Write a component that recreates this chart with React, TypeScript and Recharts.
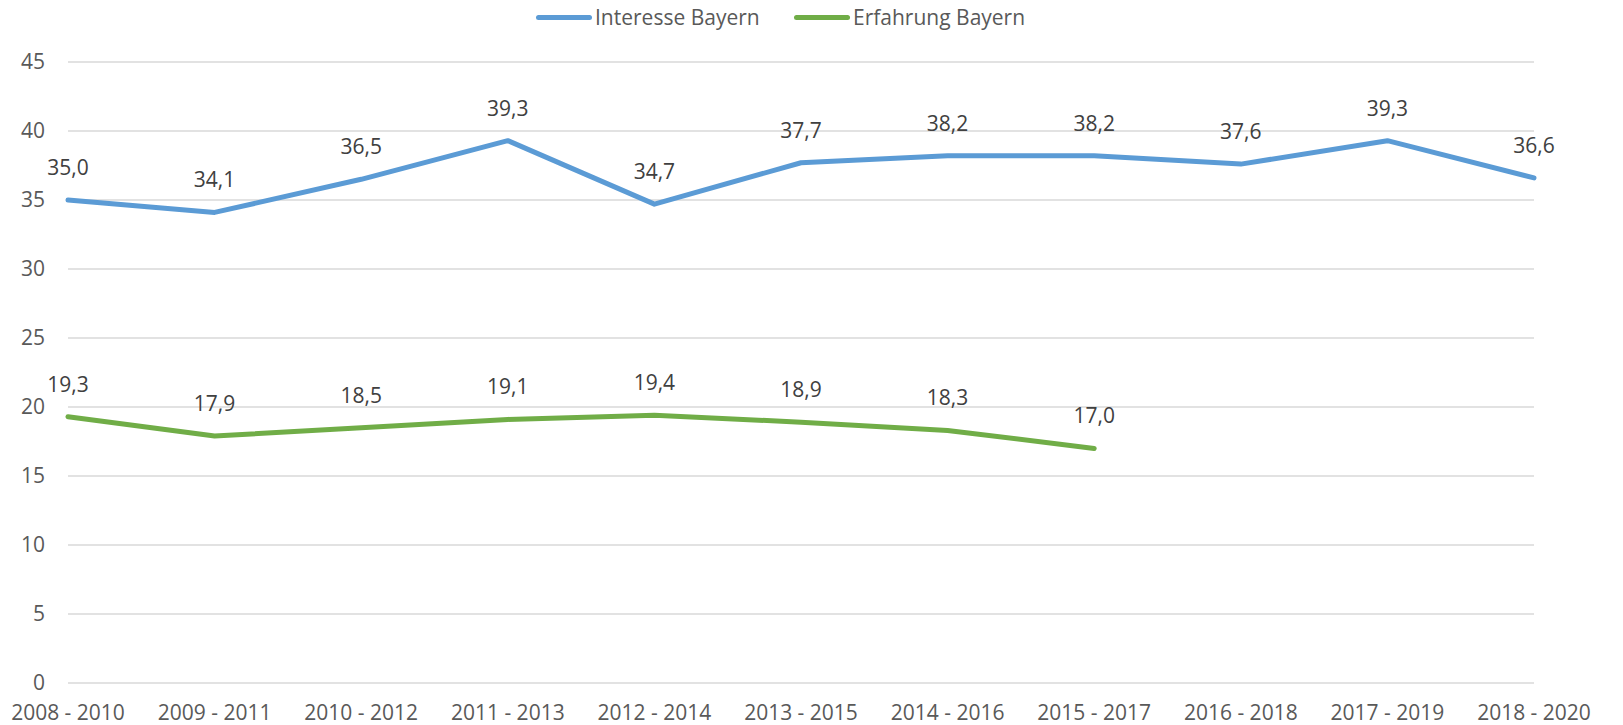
import React from 'react';
import { LineChart, Line, XAxis, YAxis, CartesianGrid, Legend, LabelList } from 'recharts';

const categories = ['2008 - 2010', '2009 - 2011', '2010 - 2012', '2011 - 2013', '2012 - 2014', '2013 - 2015', '2014 - 2016', '2015 - 2017', '2016 - 2018', '2017 - 2019', '2018 - 2020'];
const interesseBayern = [35.0, 34.1, 36.5, 39.3, 34.7, 37.7, 38.2, 38.2, 37.6, 39.3, 36.6];
const erfahrungBayern: (number | null)[] = [19.3, 17.9, 18.5, 19.1, 19.4, 18.9, 18.3, 17.0, null, null, null];
const yTicks = [0, 5, 10, 15, 20, 25, 30, 35, 40, 45];

const seriesNames = ['Interesse Bayern', 'Erfahrung Bayern'];
const seriesColors = ['#5B9BD5', '#70AD47'];

const data = categories.map((c, i) => ({
  name: c,
  interesse: interesseBayern[i],
  erfahrung: erfahrungBayern[i],
}));

const FONT = '"Open Sans", "Noto Sans", sans-serif';
const FS = 21;
const fmt = (v: any) => (v == null ? '' : Number(v).toFixed(1).replace('.', ','));

const LegendContent = () => (
  <div style={{ position: 'relative', width: 1623, height: 30, fontFamily: FONT, fontSize: FS, color: '#595959' }}>
    {[
      { left: 536, name: seriesNames[0], color: seriesColors[0] },
      { left: 794, name: seriesNames[1], color: seriesColors[1] },
    ].map((it) => (
      <div key={it.name} style={{ position: 'absolute', left: it.left, top: 0, height: 30, display: 'flex', alignItems: 'center', whiteSpace: 'nowrap' }}>
        <span style={{ display: 'inline-block', width: 56, height: 5, borderRadius: 3, background: it.color, marginRight: 3 }} />
        <span>{it.name}</span>
      </div>
    ))}
  </div>
);

export default function App() {
  return (
    <div style={{ position: 'absolute', left: 0, top: 0, width: 1623, height: 725, background: '#fff' }}>
      <LineChart width={1623} height={725} data={data} margin={{ top: 32, right: 89, bottom: 0, left: 0 }}>
        <CartesianGrid horizontal={true} vertical={false} stroke="#D9D9D9" strokeWidth={1.5} />
        <XAxis
          dataKey="name"
          axisLine={false}
          tickLine={false}
          height={42}
          tickMargin={16}
          interval={0}
          tick={{ fill: '#595959', fontSize: FS, fontFamily: FONT }}
        />
        <YAxis
          domain={[0, 45]}
          ticks={yTicks}
          width={68}
          axisLine={false}
          tickLine={false}
          tickMargin={17}
          tick={{ fill: '#595959', fontSize: FS, fontFamily: FONT }}
        />
        <Legend verticalAlign="top" content={<LegendContent />} wrapperStyle={{ top: 2, left: 0, width: 1623, height: 30 }} />
        <Line
          type="linear"
          dataKey="interesse"
          name={seriesNames[0]}
          stroke={seriesColors[0]}
          strokeWidth={5}
          strokeLinecap="round"
          strokeLinejoin="round"
          dot={false}
          activeDot={false}
          isAnimationActive={false}
        >
          <LabelList dataKey="interesse" position="top" offset={25} formatter={fmt} style={{ fill: '#404040', fontSize: FS, fontFamily: FONT }} />
        </Line>
        <Line
          type="linear"
          dataKey="erfahrung"
          name={seriesNames[1]}
          stroke={seriesColors[1]}
          strokeWidth={5}
          strokeLinecap="round"
          strokeLinejoin="round"
          dot={false}
          activeDot={false}
          isAnimationActive={false}
        >
          <LabelList dataKey="erfahrung" position="top" offset={25} formatter={fmt} style={{ fill: '#404040', fontSize: FS, fontFamily: FONT }} />
        </Line>
      </LineChart>
    </div>
  );
}
